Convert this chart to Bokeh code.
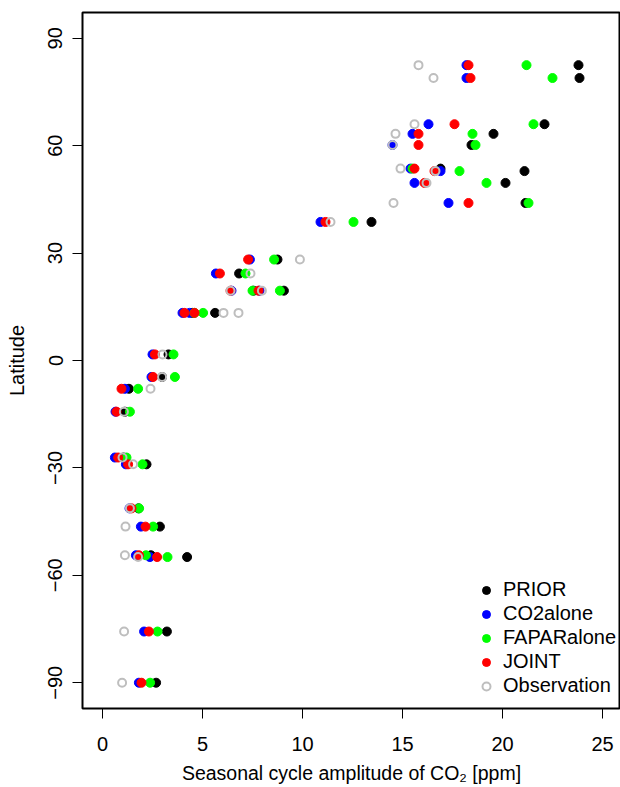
from bokeh.plotting import figure
from bokeh.models import Range1d, Legend, LegendItem, FixedTicker
from bokeh.embed import file_html
from bokeh.resources import INLINE

# Station latitudes
lat = [82.5, 78.9, 66.0, 63.3, 60.2, 53.6, 52.9, 49.6, 44.0, 38.7, 28.2, 24.3,
       19.5, 19.5, 13.3, 13.3, 1.7, -4.6, -7.9, -14.3, -27.1, -29.0, -41.3,
       -46.4, -54.4, -54.9, -75.7, -90.0]

# Seasonal cycle amplitude of CO2 [ppm]
prior = [23.8, 23.85, 22.1, 19.55, 18.45, 16.9, 21.1, 20.15, 21.15, 13.45, 8.75, 6.83,
         7.55, 9.07, 4.5, 5.63, 3.3, 2.98, 1.32, 1.12, 1.05, 2.2, 1.8,
         2.87, 2.42, 4.23, 3.22, 2.68]
co2alone = [18.2, 18.2, 16.3, 15.5, 14.5, 15.4, 16.9, 15.6, 17.3, 10.9, 7.37, 5.67,
            6.45, 7.85, 4.0, 4.35, 2.5, 2.45, 1.12, 0.65, 0.62, 1.17, 1.35,
            1.92, 1.67, 2.37, 2.08, 1.82]
faparalone = [21.2, 22.5, 21.55, 18.5, 18.65, 15.5, 17.85, 19.2, 21.3, 12.55, 8.58, 7.15,
              7.5, 8.87, 4.6, 5.03, 3.55, 3.62, 1.78, 1.37, 1.2, 2.0, 1.83,
              2.53, 2.17, 3.25, 2.75, 2.38]
joint = [18.3, 18.4, 17.6, 15.8, 15.8, 15.6, 16.6, 16.1, 18.3, 11.15, 7.28, 5.87,
         6.4, 7.8, 4.1, 4.6, 2.62, 2.53, 0.95, 0.7, 0.78, 1.28, 1.45,
         2.15, 1.82, 2.73, 2.32, 1.95]
obs = [15.8, 16.55, 15.6, 14.65, 14.5, 14.9, 16.65, 16.2, 14.55, 11.4, 9.87, 7.4,
       6.4, 7.97, 6.05, 6.8, 3.0, 2.98, 2.4, 1.07, 1.0, 1.53, 1.37,
       1.15, 1.12, 1.78, 1.08, 0.98]

x_ticks = [0, 5, 10, 15, 20, 25]
y_ticks = [-90, -60, -30, 0, 30, 60, 90]
y_tick_labels = {-90: "\u221290", -60: "\u221260", -30: "\u221230"}

FONT = "Liberation Sans"
FS = "20px"

p = figure(width=620, height=787,
           x_range=Range1d(-1, 25.9), y_range=Range1d(-97.2, 97.2),
           output_backend="svg", toolbar_location=None,
           min_border_left=82, min_border_right=0,
           min_border_top=12, min_border_bottom=79)

p.xgrid.visible = False
p.ygrid.visible = False
p.outline_line_color = "black"
p.outline_line_width = 2
p.background_fill_color = "white"
p.border_fill_color = "white"

p.xaxis.ticker = FixedTicker(ticks=x_ticks)
p.yaxis.ticker = FixedTicker(ticks=y_ticks)
p.yaxis.major_label_overrides = y_tick_labels
p.yaxis.major_label_orientation = "vertical"

for ax in (p.xaxis[0], p.yaxis[0]):
    ax.axis_line_color = None
    ax.major_tick_out = 10
    ax.major_tick_in = 0
    ax.major_tick_line_color = "black"
    ax.major_tick_line_width = 1
    ax.minor_tick_line_color = None
    ax.major_label_text_font = FONT
    ax.major_label_text_font_size = FS
    ax.major_label_text_color = "black"
    ax.axis_label_text_font = FONT
    ax.axis_label_text_font_size = FS
    ax.axis_label_text_font_style = "normal"
    ax.axis_label_text_color = "black"

p.xaxis.axis_label = "Seasonal cycle amplitude of CO\u2082 [ppm]"
p.xaxis.axis_label_text_font_size = "19.5px"
p.xaxis.major_label_standoff = 18
p.xaxis.axis_label_standoff = 8
p.yaxis.axis_label = "Latitude"
p.yaxis.major_label_standoff = 10
p.yaxis.axis_label_standoff = 18

r_prior = p.scatter(prior, lat, marker="circle", size=9, fill_color="black", line_color="black")
r_co2 = p.scatter(co2alone, lat, marker="circle", size=9, fill_color="#0000FF", line_color="#0000FF")
r_fapar = p.scatter(faparalone, lat, marker="circle", size=9, fill_color="#00FF00", line_color="#00FF00")
r_joint = p.scatter(joint, lat, marker="circle", size=9, fill_color="#FF0000", line_color="#FF0000")
r_obs = p.scatter(obs, lat, marker="circle", size=8, fill_color=None, line_color="#BEBEBE", line_width=2)

legend = Legend(items=[
    LegendItem(label="PRIOR", renderers=[r_prior]),
    LegendItem(label="CO2alone", renderers=[r_co2]),
    LegendItem(label="FAPARalone", renderers=[r_fapar]),
    LegendItem(label="JOINT", renderers=[r_joint]),
    LegendItem(label="Observation", renderers=[r_obs]),
], location=(394, 11), padding=0, spacing=1, margin=0,
   border_line_color=None, background_fill_alpha=0,
   label_text_font=FONT, label_text_font_size=FS, label_text_color="black",
   label_standoff=7, glyph_width=20, glyph_height=20, label_height=20)
p.add_layout(legend)

open("out.html", "w").write(file_html(p, INLINE))
